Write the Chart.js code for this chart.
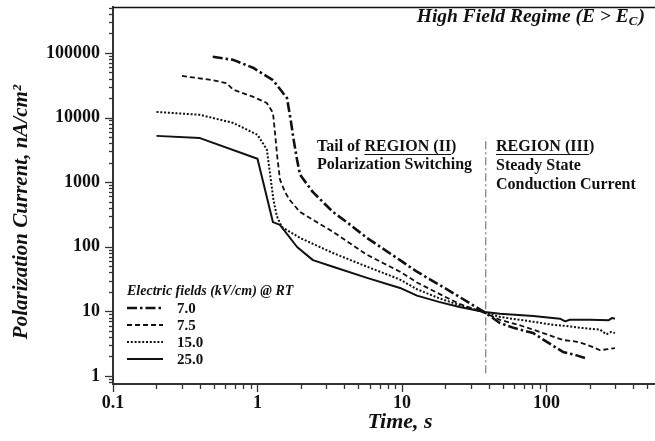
<!DOCTYPE html>
<html>
<head>
<meta charset="utf-8">
<script src="https://cdn.jsdelivr.net/npm/chart.js@4/dist/chart.umd.min.js"></script>
<style>
  html, body { margin: 0; padding: 0; background: #fff; }
  #wrap { width: 655px; height: 441px; }
</style>
</head>
<body>
<div id="wrap"><canvas id="c" width="655" height="441"></canvas></div>
<script>
// Polarization current transients (nA/cm^2) versus time (s) at room temperature
const time70 = [0.49, 0.68, 0.93, 1.28, 1.6, 1.7, 1.78, 1.88, 1.97, 2.42, 3.33, 4.2, 5.73, 7, 9.7, 12.7, 18, 25, 30, 37.5, 47.6, 60, 81, 100, 130, 160, 190];
const current70 = [87000, 78000, 59000, 38000, 20000, 9000, 4500, 2200, 1300, 700, 345, 235, 137, 101, 62, 41, 26, 16.7, 13, 9.6, 6.6, 5.5, 4.6, 3.4, 2.35, 2.1, 1.85];

const time75 = [0.3, 0.49, 0.61, 0.68, 0.93, 1.16, 1.28, 1.32, 1.37, 1.43, 1.55, 1.67, 1.97, 2.5, 3.33, 4.5, 5.73, 7.5, 9.7, 12.7, 18, 25, 30, 37.5, 47.6, 65, 81, 110, 130, 160, 178, 210, 235, 265, 298];
const current75 = [44000, 38000, 34000, 27000, 21000, 16800, 11800, 6000, 2500, 1100, 700, 530, 345, 250, 170, 108, 75, 55, 41, 28, 18.8, 13, 11.3, 9.4, 7.4, 6.1, 5.2, 4.1, 3.6, 3.4, 3.2, 2.8, 2.5, 2.6, 2.7];

const time150 = [0.2, 0.4, 0.68, 1.0, 1.16, 1.22, 1.29, 1.36, 1.47, 1.97, 2.5, 3.33, 4.5, 5.73, 7.5, 9.7, 12.7, 18, 25, 30, 37.5, 47.6, 65, 81, 110, 130, 180, 235, 260, 280, 298];
const current150 = [12200, 11000, 8250, 5400, 3200, 1380, 530, 300, 203, 137, 107, 80, 61, 49, 39, 31, 22, 16, 12.5, 11, 9.6, 8.2, 7.4, 6.9, 6.2, 6.0, 5.5, 5.2, 4.4, 4.8, 4.6];

const time250 = [0.2, 0.4, 1.0, 1.28, 1.43, 1.88, 2.42, 3.33, 5.73, 9.7, 12.7, 18, 25, 37.5, 47.6, 81, 124, 135, 145, 200, 270, 285, 298];
const current250 = [5200, 4800, 2300, 240, 218, 99, 62, 49, 33, 23, 17.5, 14, 11.7, 9.8, 9.2, 8.5, 7.7, 7.0, 7.4, 7.4, 7.3, 7.9, 7.7];

const fieldLabels = ['7.0', '7.5', '15.0', '25.0'];
const xTickValues = [0.1, 1, 10, 100];
const yTickValues = [1, 10, 100, 1000, 10000, 100000];

// boundary between region (II) and region (III)
const boundaryTime = [38, 38];
const boundaryCurrent = [1.1, 4800];

const SERIF = "'Liberation Serif', 'Times New Roman', serif";
const INK = '#111';

const toPoints = (xs, ys) => xs.map((x, i) => ({ x, y: ys[i] }));

const seriesStyle = [
  { borderDash: [10, 3, 2.5, 3], borderWidth: 2.6 },
  { borderDash: [5, 3], borderWidth: 1.8 },
  { borderDash: [2, 1.8], borderWidth: 2 },
  { borderDash: [], borderWidth: 2 }
];
const seriesData = [
  toPoints(time70, current70),
  toPoints(time75, current75),
  toPoints(time150, current150),
  toPoints(time250, current250)
];

const datasets = seriesData.map((d, i) => ({
  label: fieldLabels[i],
  data: d,
  borderColor: INK,
  borderWidth: seriesStyle[i].borderWidth,
  borderDash: seriesStyle[i].borderDash,
  pointRadius: 0,
  tension: 0,
  fill: false
}));
datasets.push({
  label: 'boundary',
  data: toPoints(boundaryTime, boundaryCurrent),
  borderColor: '#777',
  borderWidth: 1.2,
  borderDash: [8, 3, 2, 3],
  pointRadius: 0,
  fill: false
});

function strokeLine(ctx, x1, y1, x2, y2) {
  ctx.beginPath(); ctx.moveTo(x1, y1); ctx.lineTo(x2, y2); ctx.stroke();
}

function textWithUnderline(ctx, parts, x, y) {
  let cx = x;
  parts.forEach(([t, u]) => {
    const w = ctx.measureText(t).width;
    ctx.fillText(t, cx, y);
    if (u) {
      ctx.lineWidth = 1.2;
      strokeLine(ctx, cx, y + 7.5, cx + w, y + 7.5);
    }
    cx += w;
  });
}

const decor = {
  id: 'decor',
  afterDraw(chart) {
    const { ctx, chartArea: ca, scales: { x, y } } = chart;
    ctx.save();

    // frame top line
    ctx.strokeStyle = INK;
    ctx.lineWidth = 1.5;
    strokeLine(ctx, ca.left, ca.top + 0.5, ca.right, ca.top + 0.5);

    // log tick marks
    ctx.strokeStyle = '#333';
    ctx.lineWidth = 1.3;
    for (let e = -1; e <= 5; e++) {
      for (let m = 1; m <= 9; m++) {
        const v = m * Math.pow(10, e);
        if (v < y.min || v > y.max) continue;
        const py = Math.round(y.getPixelForValue(v)) + 0.5;
        const len = m === 1 ? 8 : 4;
        strokeLine(ctx, ca.left - len, py, ca.left, py);
      }
    }
    for (let e = -1; e <= 2; e++) {
      for (let m = 1; m <= 9; m++) {
        const v = m * Math.pow(10, e);
        if (v < x.min || v > x.max) continue;
        const px = Math.round(x.getPixelForValue(v)) + 0.5;
        const len = m === 1 ? 8 : 5;
        strokeLine(ctx, px, ca.bottom, px, ca.bottom + len);
      }
    }

    ctx.fillStyle = INK;
    ctx.strokeStyle = INK;
    ctx.textBaseline = 'middle';

    // axis titles
    ctx.font = `italic bold 22px ${SERIF}`;
    ctx.textAlign = 'center';
    ctx.fillText('Time, s', 400, 422);

    ctx.save();
    ctx.translate(22, 212);
    ctx.rotate(-Math.PI / 2);
    ctx.font = `italic bold 21px ${SERIF}`;
    ctx.fillText('Polarization Current, nA/cm\u00B2', 0, 0);
    ctx.restore();

    // regime heading with subscript
    ctx.textAlign = 'left';
    const mainFont = `italic bold 19.5px ${SERIF}`;
    const subFont = `italic bold 13px ${SERIF}`;
    ctx.font = mainFont;
    const head = 'High Field Regime (E > E';
    const wHead = ctx.measureText(head).width;
    const wClose = ctx.measureText(')').width;
    ctx.font = subFont;
    const wSub = ctx.measureText('C').width;
    let hx = 645 - (wHead + wSub + wClose + 1);
    ctx.font = mainFont;
    ctx.fillText(head, hx, 17);
    hx += wHead;
    ctx.font = subFont;
    ctx.fillText('C', hx, 22);
    hx += wSub + 1;
    ctx.font = mainFont;
    ctx.fillText(')', hx, 17);

    // region annotations
    ctx.font = `bold 16px ${SERIF}`;
    textWithUnderline(ctx, [['Tail of ', false], ['REGION (II', true], [')', false]], 317, 147);
    ctx.fillText('Polarization Switching', 317, 165);
    textWithUnderline(ctx, [['REGION (III', true], [')', false]], 496, 147);
    ctx.fillText('Steady State', 496, 166);
    ctx.fillText('Conduction Current', 496, 185);

    // legend
    ctx.font = `italic bold 14px ${SERIF}`;
    ctx.fillText('Electric fields (kV/cm) @ RT', 127, 291);
    ctx.font = `bold 15px ${SERIF}`;
    const rows = [308, 325, 342, 359];
    chart.data.datasets.slice(0, 4).forEach((ds, i) => {
      ctx.save();
      ctx.lineWidth = ds.borderWidth;
      ctx.setLineDash(ds.borderDash);
      strokeLine(ctx, 127, rows[i], 163, rows[i]);
      ctx.restore();
      ctx.fillText(ds.label, 177, rows[i] + 1);
    });

    ctx.restore();
  }
};

function fixPadding(s) {
  s.paddingTop = 0; s.paddingBottom = 0; s.paddingLeft = 0; s.paddingRight = 0;
}

new Chart(document.getElementById('c'), {
  type: 'line',
  data: { datasets },
  plugins: [decor],
  options: {
    responsive: false,
    animation: false,
    devicePixelRatio: 1,
    layout: { padding: { top: 7, right: 0, left: 0, bottom: 0 } },
    plugins: { legend: { display: false }, tooltip: { enabled: false } },
    elements: { line: { borderJoinStyle: 'round' } },
    scales: {
      x: {
        type: 'logarithmic',
        min: 0.1,
        max: 564,
        grid: { display: false, drawTicks: false },
        border: { display: true, color: '#333', width: 2 },
        afterBuildTicks: (s) => { s.ticks = xTickValues.map(v => ({ value: v, major: true })); },
        afterFit: (s) => { s.height = 57; fixPadding(s); },
        ticks: {
          autoSkip: false, maxRotation: 0, padding: 9, color: INK,
          font: { family: SERIF, size: 18, weight: 'bold' },
          callback: (v) => String(v)
        }
      },
      y: {
        type: 'logarithmic',
        min: 0.75,
        max: 514000,
        grid: { display: false, drawTicks: false },
        border: { display: true, color: '#333', width: 2 },
        afterBuildTicks: (s) => { s.ticks = yTickValues.map(v => ({ value: v, major: true })); },
        afterFit: (s) => { s.width = 113; fixPadding(s); },
        ticks: {
          autoSkip: false, padding: 13, color: INK,
          font: { family: SERIF, size: 18, weight: 'bold' },
          callback: (v) => String(v)
        }
      }
    }
  }
});
</script>
</body>
</html>
